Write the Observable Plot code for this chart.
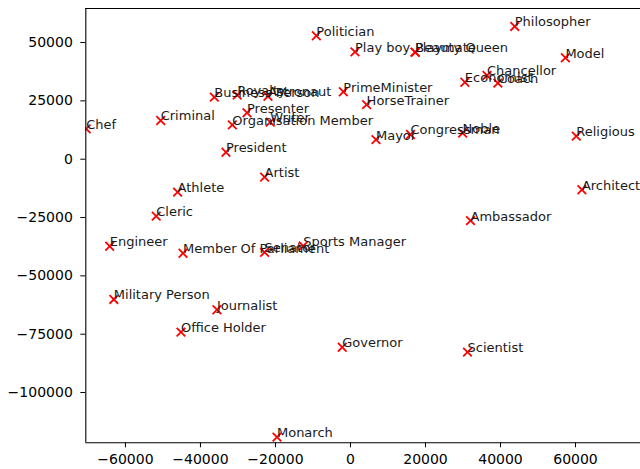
<!DOCTYPE html>
<html>
<head>
<meta charset="utf-8">
<script src="https://cdn.jsdelivr.net/npm/d3@7"></script>
<script src="https://cdn.jsdelivr.net/npm/@observablehq/plot@0.6"></script>
<style>
  html, body { margin: 0; padding: 0; background: #fff; }
  #chart svg { display: block; }
</style>
</head>
<body>
<div id="chart"></div>
<script>
// Occupation labels and their 2-D embedding coordinates
const labels = [
  "Politician", "Play boy", "Playmate", "Beauty Queen", "Philosopher", "Model",
  "Business Person", "Royalty", "Astronaut", "PrimeMinister", "HorseTrainer",
  "Economist", "Chancellor", "Coach", "Presenter", "Criminal", "Organisation Member",
  "Writer", "Chef", "President", "Mayor", "Congressman", "Noble", "Religious",
  "Artist", "Athlete", "Cleric", "Engineer", "Member Of Parliament", "Senator",
  "Sports Manager", "Ambassador", "Architect", "Military Person", "Journalist",
  "Office Holder", "Governor", "Scientist", "Monarch"
];
const xValues = [
  -9100, 1200, 17200, 17300, 43800, 57300,
  -36300, -30200, -22000, -1900, 4300,
  30500, 36400, 39300, -27600, -50600, -31500,
  -21400, -70460, -33200, 6800, 16000, 29900, 60200,
  -22900, -46100, -51800, -64200, -44650, -22900,
  -12600, 32000, 61700, -63100, -35600,
  -45200, -2200, 31200, -19600
];
const yValues = [
  52900, 46000, 45900, 45800, 56900, 43500,
  26600, 27500, 27000, 28900, 23400,
  33000, 35900, 32600, 19900, 16600, 14700,
  15900, 13000, 3000, 8400, 10600, 11200, 9900,
  -7700, -14100, -24400, -37300, -40300, -39900,
  -37200, -26300, -13100, -60100, -64500,
  -74100, -80600, -82700, -119100
];
const xTicks = [-60000, -40000, -20000, 0, 20000, 40000, 60000];
const yTicks = [50000, 25000, 0, -25000, -50000, -75000, -100000];
const xDomain = [-70570, 77330];
const yDomain = [-121540, 64590];

const data = labels.map((name, i) => ({name, x: xValues[i], y: yValues[i]}));
const fmt = d => d < 0 ? "\u2212" + Math.abs(d) : String(d);

const chart = Plot.plot({
  width: 640,
  height: 469,
  marginLeft: 85.3,
  marginRight: 0,
  marginTop: 8,
  marginBottom: 26.7,
  style: {fontFamily: "'DejaVu Sans', sans-serif", fontSize: "14px", color: "black", background: "white"},
  x: {domain: xDomain, axis: null},
  y: {domain: yDomain, axis: null},
  marks: [
    Plot.dot(data, {x: "x", y: "y", symbol: "times", r: 4, stroke: "red", strokeWidth: 1.8, clip: true}),
    Plot.text(data, {x: "x", y: "y", text: "name", textAnchor: "start", lineAnchor: "bottom",
      fontSize: 13, fill: "#1a1a1a", fontFamily: "'DejaVu Sans', sans-serif"}),
    Plot.axisX({ticks: xTicks, tickFormat: fmt, tickSize: 5, tickPadding: 6, label: null, fontSize: 14}),
    Plot.axisY({ticks: yTicks, tickFormat: fmt, tickSize: 5, tickPadding: 8, label: null, fontSize: 14}),
    Plot.ruleX([xDomain[0]], {stroke: "black", strokeWidth: 1.1}),
    Plot.ruleY([yDomain[0]], {stroke: "black", strokeWidth: 1.1}),
    Plot.ruleY([yDomain[1]], {stroke: "black", strokeWidth: 1.1})
  ]
});
document.getElementById("chart").appendChild(chart);
</script>
</body>
</html>
